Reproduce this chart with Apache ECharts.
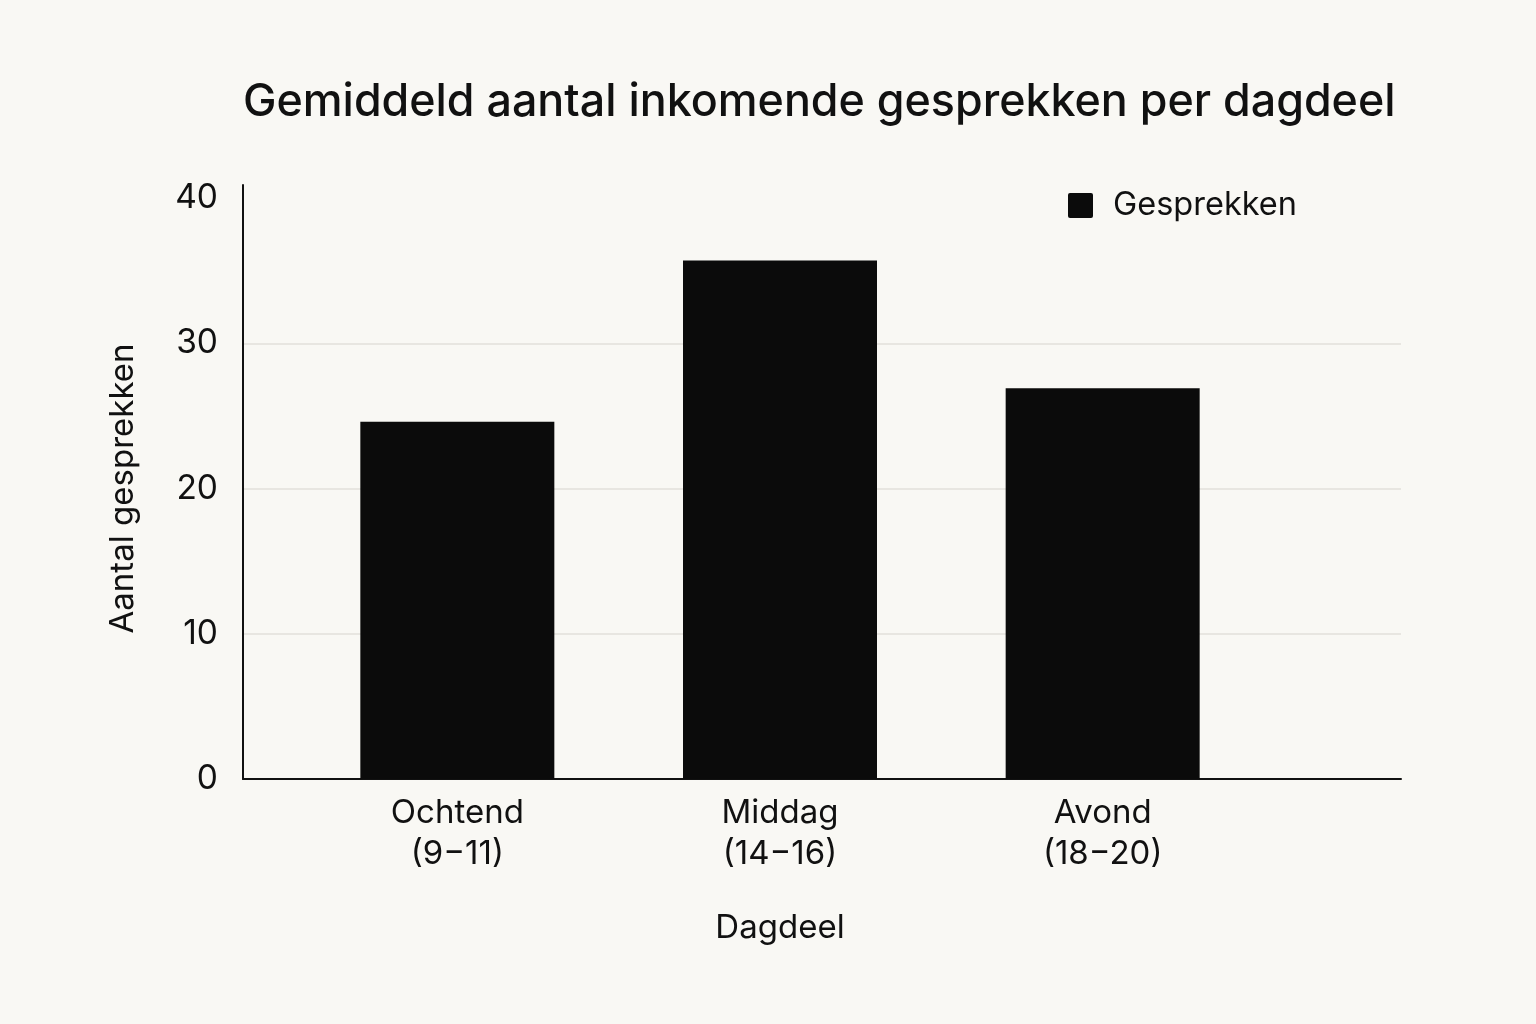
<!DOCTYPE html>
<html>
<head>
<meta charset="utf-8">
<script src="https://cdn.jsdelivr.net/npm/echarts@6/dist/echarts.min.js"></script>
<style>
html,body{margin:0;padding:0;background:#f9f8f4;}
#chart{width:1536px;height:1024px;}
</style>
</head>
<body>
<div id="chart"></div>
<script>
const categories = ['Ochtend\n(9−11)', 'Middag\n(14−16)', 'Avond\n(18−20)'];
const gesprekken = [24.6, 35.7, 26.9];
const yTicks = [0, 10, 20, 30, 40];

const FONT = 'Inter, "Noto Sans", sans-serif';
const chart = echarts.init(document.getElementById('chart'), null, {renderer: 'canvas'});

chart.setOption({
  backgroundColor: '#f9f8f4',
  animation: false,
  title: {
    text: 'Gemiddeld aantal inkomende gesprekken per dagdeel',
    left: 238, top: 75,
    textStyle: {fontFamily: FONT, fontSize: 44.8, fontWeight: 500, color: '#111'}
  },
  legend: {
    data: ['Gesprekken'],
    left: 1063, top: 184,
    itemWidth: 25, itemHeight: 25,
    icon: 'path://M2,0 L23,0 Q25,0 25,2 L25,23 Q25,25 23,25 L2,25 Q0,25 0,23 L0,2 Q0,0 2,0 Z',
    textStyle: {fontFamily: FONT, fontSize: 32.5, color: '#111', padding: [0, 0, 0, 15]}
  },
  grid: [
    {left: 296, width: 968, top: 198, bottom: 245},
    {left: 243, right: 135, top: 198, bottom: 245},
    {left: 243, width: 10, top: 185, bottom: 245}
  ],
  xAxis: [
    {
      type: 'category', gridIndex: 0, data: categories,
      axisLine: {show: false}, axisTick: {show: false},
      axisLabel: {fontFamily: FONT, fontSize: 33, color: '#111', lineHeight: 41, margin: 14},
      name: 'Dagdeel', nameLocation: 'middle', nameGap: 133,
      nameTextStyle: {fontFamily: FONT, fontSize: 33, color: '#111'}
    },
    {
      type: 'value', gridIndex: 1, min: 0, max: 1,
      axisLine: {show: true, lineStyle: {color: '#111', width: 2}},
      axisTick: {show: false}, axisLabel: {show: false}, splitLine: {show: false}
    },
    {
      type: 'value', gridIndex: 2, min: 0, max: 1, show: false
    }
  ],
  yAxis: [
    {type: 'value', gridIndex: 0, min: 0, max: 40, interval: 10, show: false},
    {
      type: 'value', gridIndex: 1, min: yTicks[0], max: yTicks[yTicks.length - 1], interval: 10,
      axisLine: {show: false}, axisTick: {show: false},
      axisLabel: {fontFamily: FONT, fontSize: 33.5, color: '#111', margin: 25},
      splitLine: {show: true, showMaxLine: false, showMinLine: false, lineStyle: {color: '#e2e0db', width: 1.5}},
      name: 'Aantal gesprekken', nameLocation: 'middle', nameGap: 103,
      nameTextStyle: {fontFamily: FONT, fontSize: 33, color: '#111'}
    },
    {
      type: 'value', gridIndex: 2, min: 0, max: 1,
      axisLine: {show: true, lineStyle: {color: '#111', width: 2}},
      axisTick: {show: false}, axisLabel: {show: false}, splitLine: {show: false}
    }
  ],
  series: [
    {
      name: 'Gesprekken', type: 'bar', xAxisIndex: 0, yAxisIndex: 0,
      data: gesprekken, barWidth: 194,
      itemStyle: {color: '#0b0b0b'}
    }
  ]
});
</script>
</body>
</html>
